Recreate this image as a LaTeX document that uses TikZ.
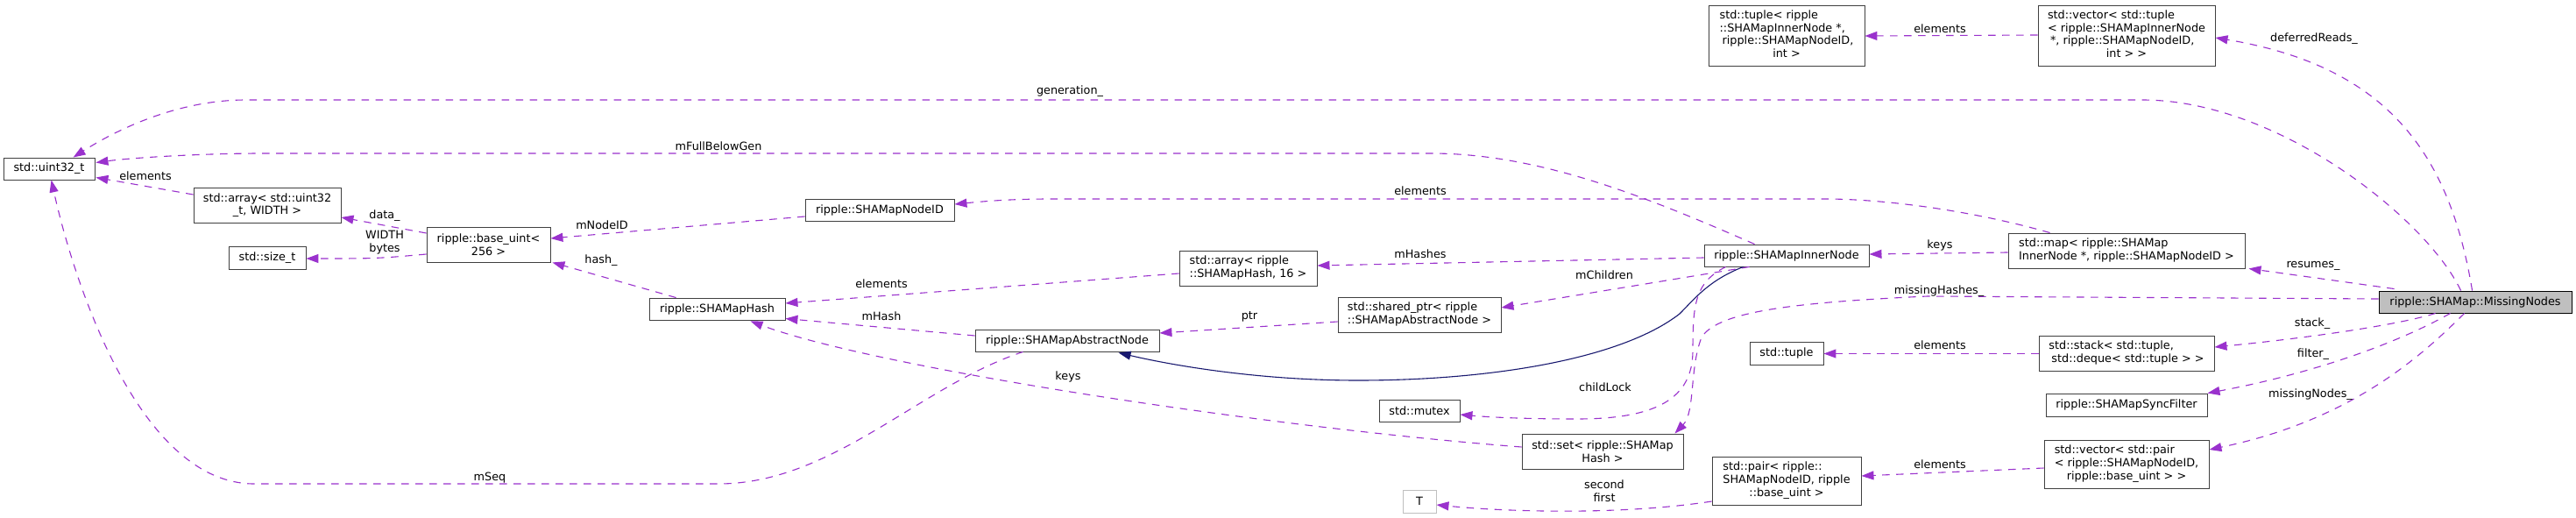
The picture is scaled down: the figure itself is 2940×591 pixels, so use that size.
\documentclass[tikz,border=0pt]{standalone}
\usepackage{fontspec}
\setmainfont{DejaVu Sans}
\usetikzlibrary{arrows.meta,calc}
\definecolor{edgec}{HTML}{9A32CD}
\definecolor{inhc}{HTML}{191970}
\definecolor{boxc}{HTML}{404040}
\definecolor{missfill}{HTML}{BFBFBF}
\definecolor{tgray}{HTML}{BFBFBF}
\newcommand\dfont{\fontsize{12.8}{14.7}\selectfont}
\newcommand\lefttab[1]{\begin{tabular}{@{}l@{}}#1\end{tabular}}
\newcommand\centline[1]{\multicolumn{1}{@{}c@{}}{#1}}
\begin{document}
\begin{tikzpicture}[x=1pt,y=-1pt,
  box/.style={draw=boxc, fill=white, line width=0.9pt, inner sep=0pt, font=\dfont, align=center},
  edge/.style={draw=edgec, line width=1.1pt, dash pattern=on 8.5pt off 7.5pt, -{Triangle[length=14pt,width=10pt]}},
  inh/.style={draw=inhc, line width=1.1pt, -{Triangle[length=14pt,width=10pt]}},
  lbl/.style={font=\dfont, inner sep=0pt, align=center}]
\useasboundingbox (0,0) rectangle (2940,591);
\fill[white] (0,0) rectangle (2940,591);
% nodes
\node[box, minimum width=104pt, minimum height=25pt] (uint32) at (56,192.5) {std::uint32\_t};
\node[box, minimum width=168pt, minimum height=40pt] (arrU32) at (305,234) {std::array< std::uint32\\\_t, WIDTH >};
\node[box, minimum width=88pt, minimum height=26pt] (sizet) at (305,294) {std::size\_t};
\node[box, minimum width=141pt, minimum height=40pt] (baseuint) at (557.5,279) {ripple::base\_uint<\\256 >};
\node[box, minimum width=170pt, minimum height=25pt] (nodeid) at (1004,239.5) {ripple::SHAMapNodeID};
\node[box, minimum width=155pt, minimum height=25pt] (shahash) at (818.5,352.5) {ripple::SHAMapHash};
\node[box, minimum width=157pt, minimum height=40pt] (arr16) at (1424.5,306) {\lefttab{std::array< ripple\\::SHAMapHash, 16 >}};
\node[box, minimum width=210pt, minimum height=25pt] (absnode) at (1218,388.5) {ripple::SHAMapAbstractNode};
\node[box, minimum width=186pt, minimum height=40pt] (sharedptr) at (1620,359) {\lefttab{std::shared\_ptr< ripple\\::SHAMapAbstractNode >}};
\node[box, minimum width=188pt, minimum height=25pt] (inner) at (2039,291.5) {ripple::SHAMapInnerNode};
\node[box, minimum width=178pt, minimum height=69pt] (tupleR) at (2039,40.5) {\lefttab{std::tuple< ripple\\::SHAMapInnerNode *,\\\hspace*{3pt}ripple::SHAMapNodeID,\\\centline{int >}}};
\node[box, minimum width=202pt, minimum height=69pt] (vecTuple) at (2427,40.5) {\lefttab{std::vector< std::tuple\\< ripple::SHAMapInnerNode\\\hspace*{3pt}*, ripple::SHAMapNodeID,\\\centline{int > >}}};
\node[box, minimum width=270pt, minimum height=40pt] (map) at (2427,286) {\lefttab{std::map< ripple::SHAMap\\InnerNode *, ripple::SHAMapNodeID >}};
\node[box, fill=missfill, draw=black, minimum width=220pt, minimum height=25pt] (missing) at (2825,344.5) {ripple::SHAMap::MissingNodes};
\node[box, minimum width=84pt, minimum height=26pt] (tuple) at (2039,403) {std::tuple};
\node[box, minimum width=200pt, minimum height=40pt] (stack) at (2427,403) {\lefttab{std::stack< std::tuple,\\\hspace*{3pt}std::deque< std::tuple > >}};
\node[box, minimum width=92pt, minimum height=25pt] (mutex) at (1620,468.5) {std::mutex};
\node[box, minimum width=184pt, minimum height=40pt] (set) at (1829,515) {std::set< ripple::SHAMap\\Hash >};
\node[box, minimum width=184pt, minimum height=26pt] (syncfilter) at (2427,462) {ripple::SHAMapSyncFilter};
\node[box, minimum width=170pt, minimum height=55pt] (pair) at (2039,548.5) {\lefttab{std::pair< ripple::\\SHAMapNodeID, ripple\\\centline{::base\_uint >}}};
\node[box, minimum width=188pt, minimum height=55pt] (vecPair) at (2427,529.5) {\lefttab{std::vector< std::pair\\< ripple::SHAMapNodeID,\\\centline{ripple::base\_uint > >}}};
\node[box, draw=tgray, minimum width=38pt, minimum height=26pt] (T) at (1620,572) {T};
% edges
\draw[edge] ($(arrU32.west)+(0,-12)$) -- ($(uint32.east)+(1,10)$);
\draw[edge] ($(baseuint.west)+(0,-13)$) -- ($(arrU32.east)+(0,14)$);
\draw[edge] ($(baseuint.west)+(0,11)$) .. controls (430,295) .. ($(sizet.east)+(0,1)$);
\draw[edge] ($(nodeid.west)+(0,7.5)$) -- ($(baseuint.east)+(0,-7)$);
\draw[edge] ($(shahash.north west)+(31,0)$) -- ($(baseuint.south east)+(2,0)$);
\draw[edge] ($(arr16.west)+(0,6)$) -- ($(shahash.east)+(0,-6.5)$);
\draw[edge] ($(absnode.west)+(0,-5.5)$) -- ($(shahash.east)+(0,11)$);
\draw[edge] ($(set.west)+(0,-5)$) .. controls (1450,488) and (1000,420) .. ($(shahash.south west)+(116,1)$);
\draw[edge] ($(sharedptr.west)+(0,8)$) -- ($(absnode.east)+(0,-8.5)$);
\draw[edge] ($(inner.west)+(0,2.5)$) -- ($(arr16.east)+(0,-3)$);
\draw[edge] ($(inner.south west)+(52,0)$) -- ($(sharedptr.east)+(0,-8)$);
\draw[edge] ($(inner.south west)+(25,0)$) .. controls (1935,322) and (1932,345) .. (1932,400) .. controls (1932,455) and (1890,478) .. (1800,478) .. controls (1740,478) and (1700,476) .. ($(mutex.east)+(0,4.5)$);
\draw[inh] ($(inner.south west)+(45,0)$) .. controls (1950,320) and (1935,340) .. (1917,358) .. controls (1850,410) and (1700,434) .. (1550,434) .. controls (1430,434) and (1330,415) .. ($(absnode.south west)+(164,1)$);
\draw[edge] ($(inner.north west)+(58,0)$) .. controls (1880,225) and (1757,175) .. (1633,175) -- (300,175) .. controls (230,175) and (150,180) .. ($(uint32.north east)+(1,6)$);
\draw[edge] ($(missing.north west)+(94,0)$) .. controls (2770,250) and (2600,114) .. (2445,114) -- (281,114) .. controls (200,114) and (130,150) .. ($(uint32.north west)+(80,0)$);
\draw[edge] ($(map.north west)+(48,0)$) .. controls (2250,240) and (2150,227) .. (2083,227) -- (1200,227) .. controls (1150,227) and (1120,230) .. ($(nodeid.east)+(0,-6.5)$);
\draw[edge] ($(map.west)+(0,2)$) -- ($(inner.east)+(0,-1.5)$);
\draw[edge] ($(missing.west)+(0,-3.5)$) -- (2200,338) .. controls (2050,345) and (1960,355) .. (1942,385) .. controls (1928,420) and (1935,470) .. ($(set.north east)+(-10,0)$);
\draw[edge] ($(absnode.south west)+(55,0)$) .. controls (1050,440) and (950,552) .. (820,552) -- (290,552) .. controls (160,552) and (85,325) .. ($(uint32.south west)+(55,0)$);
\draw[edge] ($(vecTuple.west)+(0,-0.5)$) -- ($(tupleR.east)+(0,0.5)$);
\draw[edge] ($(missing.north west)+(107,0)$) .. controls (2795,170) and (2720,75) .. ($(vecTuple.east)+(0,2.5)$);
\draw[edge] ($(missing.north west)+(18,-2)$) -- ($(map.south east)+(4,0)$);
\draw[edge] ($(missing.south west)+(65,0)$) .. controls (2740,370) and (2640,385) .. ($(stack.east)+(0,-7)$);
\draw[edge] ($(missing.south west)+(82,0)$) .. controls (2730,395) and (2630,428) .. (syncfilter.north east);
\draw[edge] ($(missing.south west)+(98,0)$) .. controls (2760,410) and (2680,480) .. ($(vecPair.east)+(0,-16.5)$);
\draw[edge] ($(stack.west)+(0,0.5)$) -- ($(tuple.east)+(0,0.5)$);
\draw[edge] ($(vecPair.west)+(0,4.5)$) -- ($(pair.east)+(0,-5.5)$);
\draw[edge] ($(pair.west)+(0,23.5)$) .. controls (1850,588) and (1720,584) .. ($(T.east)+(0,4)$);
% labels
\node[lbl] (l1) at (166,201) {elements};
\node[lbl] (l2) at (439,246) {data\_};
\node[lbl] (l3) at (439,277) {WIDTH\\bytes};
\node[lbl] (l4) at (687,257) {mNodeID};
\node[lbl] (l5) at (686,297) {hash\_};
\node[lbl] (l6) at (1006,324) {elements};
\node[lbl] (l7) at (1006,361) {mHash};
\node[lbl] (l8) at (1219,430) {keys};
\node[lbl] (l9) at (1426,361) {ptr};
\node[lbl] (l10) at (1621,290) {mHashes};
\node[lbl] (l11) at (1831,314) {mChildren};
\node[lbl] (l12) at (1832,442) {childLock};
\node[lbl] (l13) at (1621,218) {elements};
\node[lbl] (l14) at (1221,104) {generation\_};
\node[lbl] (l15) at (820,167) {mFullBelowGen};
\node[lbl] (l16) at (559,545) {mSeq};
\node[lbl] (l17) at (2214,33) {elements};
\node[lbl] (l18) at (2641,44) {deferredReads\_};
\node[lbl] (l19) at (2214,280) {keys};
\node[lbl] (l20) at (2640,303) {resumes\_};
\node[lbl] (l21) at (2213,332) {missingHashes\_};
\node[lbl] (l22) at (2639,369) {stack\_};
\node[lbl] (l23) at (2214,394) {elements};
\node[lbl] (l24) at (2640,404) {filter\_};
\node[lbl] (l25) at (2637,450) {missingNodes\_};
\node[lbl] (l26) at (2214,530) {elements};
\node[lbl] (l27) at (1831,560) {second\\first};
\end{tikzpicture}
\end{document}
